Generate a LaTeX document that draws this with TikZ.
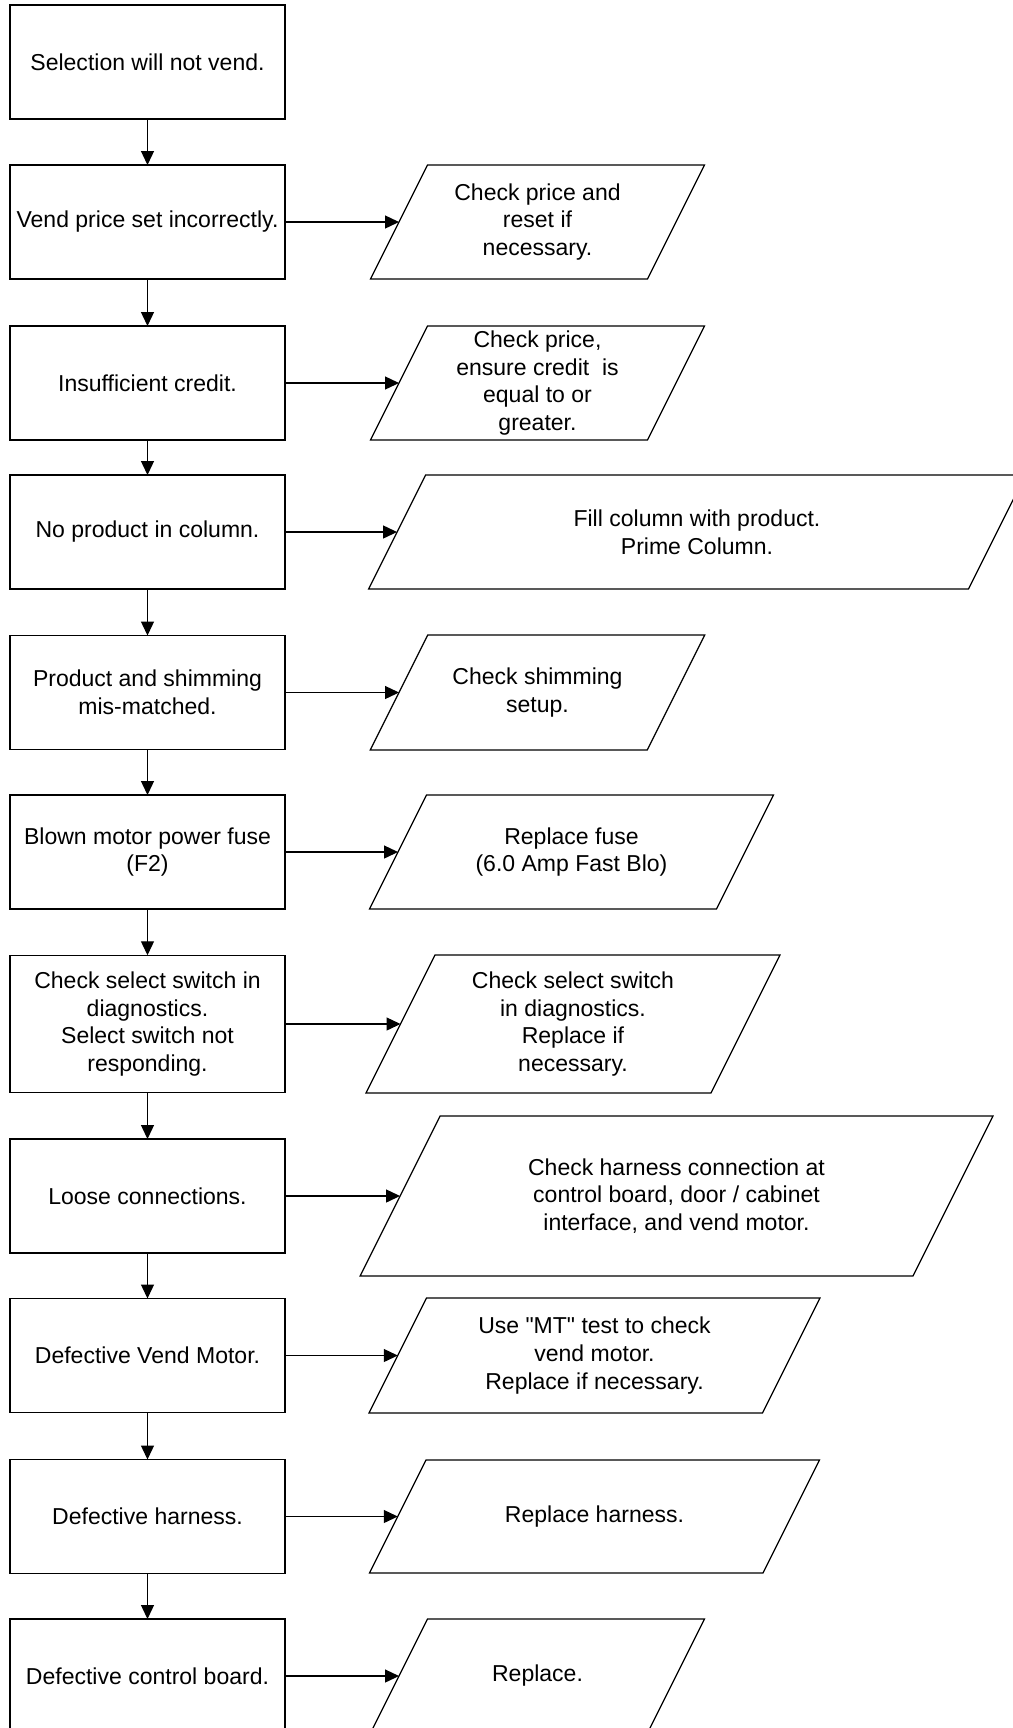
\documentclass[tikz,border=0pt]{standalone}
\usepackage{fontspec}
\setmainfont{Liberation Sans}[Ligatures=TeXOff]
\usetikzlibrary{arrows.meta,calc}

\begin{document}
\begin{tikzpicture}[x=0.02cm, y=-0.02cm, line width=0.7pt,
  font=\fontsize{13.1}{15.7}\selectfont,
  cause/.style={draw, align=center, inner sep=0pt, outer sep=0pt,
    minimum width=5.5cm, minimum height=2.28cm},
  remedy/.style={align=center, inner sep=0pt, outer sep=0pt},
  flow/.style={-{Triangle[length=2.8mm, width=2.6mm]}}]
  \useasboundingbox (0,0) rectangle (1013,1728);
  % Causes
  \node[cause] (c1) at (147.5,62) {Selection will not vend.};
  \node[cause] (c2) at (147.5,222) {Vend price set incorrectly.};
  \node[cause] (c3) at (147.5,383) {Insufficient credit.};
  \node[cause] (c4) at (147.5,532) {No product in column.};
  \node[cause] (c5) at (147.5,692.5) {Product and shimming\\mis-matched.};
  \node[cause] (c6) at (147.5,852) {Blown motor power fuse\\(F2)};
  \node[cause, minimum height=2.75cm] (c7) at (147.5,1024)
    {Check select switch in\\diagnostics.\\Select switch not\\responding.};
  \node[cause] (c8) at (147.5,1196) {Loose connections.};
  \node[cause] (c9) at (147.5,1355.5) {Defective Vend Motor.};
  \node[cause] (c10) at (147.5,1516.5) {Defective harness.};
  \node[cause] (c11) at (147.5,1676) {Defective control board.};
  % Remedies
  \node[remedy, minimum width=5.54cm, minimum height=2.28cm] (f2) at (537.5,222)
    {Check price and\\reset if\\necessary.};
  \node[remedy, minimum width=5.54cm, minimum height=2.28cm] (f3) at (537.5,383)
    {Check price,\\ensure credit\ \ is\\equal to or\\greater.};
  \node[remedy, minimum width=12cm, minimum height=2.28cm] (f4) at (697,532)
    {Fill column with product.\\Prime Column.};
  \node[remedy, minimum width=5.54cm, minimum height=2.3cm] (f5) at (537.5,692.5)
    {Check shimming\\setup.};
  \node[remedy, minimum width=6.94cm, minimum height=2.28cm] (f6) at (571.5,852)
    {Replace fuse\\(6.0 Amp Fast Blo)};
  \node[remedy, minimum width=6.9cm, minimum height=2.76cm] (f7) at (573,1024)
    {Check select switch\\in diagnostics.\\Replace if\\necessary.};
  \node[remedy, minimum width=11.06cm, minimum height=3.2cm] (f8) at (676.5,1196)
    {Check harness connection at\\control board, door / cabinet\\interface, and vend motor.};
  \node[remedy, minimum width=7.87cm, minimum height=2.3cm] (f9) at (594.5,1355.5)
    {Use "MT" test to check\\vend motor.\\Replace if necessary.};
  \node[remedy, minimum width=7.87cm, minimum height=2.26cm] (f10) at (594.5,1516.5)
    {Replace harness.};
  \node[remedy, minimum width=5.54cm, minimum height=2.28cm] (f11) at (537.5,1676)
    {Replace.};
  % slanted outlines round the remedies
  \foreach \k in {2,...,11}
    \draw let \p1=(f\k.north), \p2=(f\k.south), \n1={0.25*(\y1-\y2)} in
      ([xshift=\n1]f\k.north west) -- ([xshift=\n1]f\k.north east)
      -- ([xshift=-\n1]f\k.south east) -- ([xshift=-\n1]f\k.south west) -- cycle;
  % Connectors
  \foreach \a/\b in {c1/c2,c2/c3,c3/c4,c4/c5,c5/c6,c6/c7,c7/c8,c8/c9,c9/c10,c10/c11}
    \draw[flow] (\a.south) -- (\b.north);
  \foreach \k in {2,...,11}
    \draw[flow] (c\k.east) -- (f\k.west);
\end{tikzpicture}
\end{document}
